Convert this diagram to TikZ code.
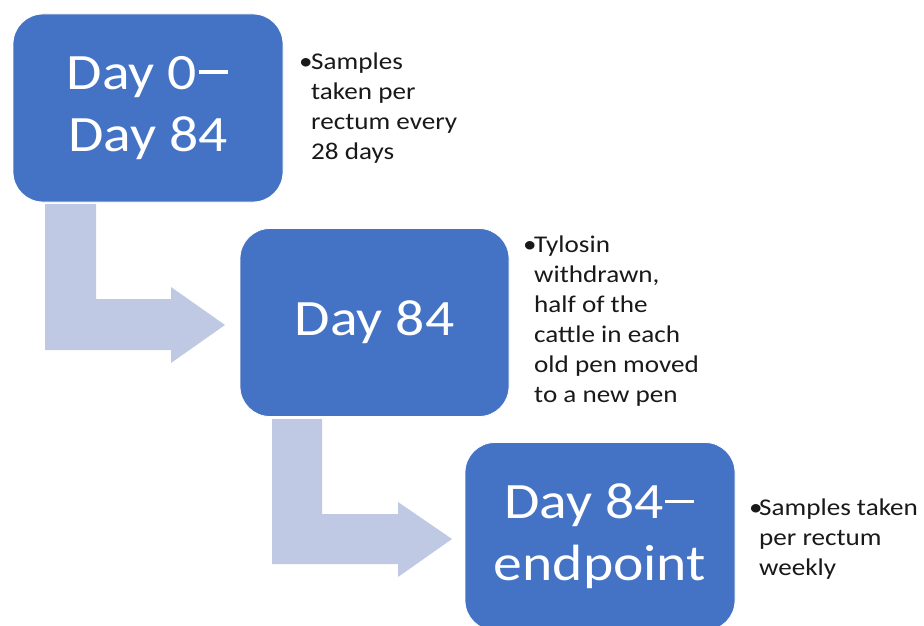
\documentclass[tikz,border=0pt]{standalone}
\usepackage{fontspec}
\setmainfont{Carlito}[FakeStretch=1.13]
\definecolor{boxblue}{RGB}{68,114,196}
\definecolor{arrowblue}{RGB}{191,201,228}
\newcommand\stagedash{\kern1.5pt\rule[15.5pt]{29pt}{3.6pt}\kern1.5pt}
\begin{document}
\begin{tikzpicture}[x=1pt,y=-1pt,
  stagebox/.style={fill=boxblue, draw=white, line width=0.8pt, rounded corners=30pt,
    minimum width=270pt, minimum height=188pt, text=white, align=center, inner sep=0pt,
    font=\fontsize{51}{62}\selectfont},
  note/.style={anchor=base west, inner sep=0pt, font=\fontsize{24}{30}\selectfont, text=black!90},
  bentarrow/.style={fill=arrowblue, draw=none}]
\useasboundingbox (0,0) rectangle (924,626);
% bent arrows
\fill[bentarrow] (45,204) -- (96,204) -- (96,299) -- (171,299) -- (171,287) -- (225,325)
  -- (171,363) -- (171,350) -- (45,350) -- cycle;
\fill[bentarrow] (272,419) -- (322,419) -- (322,514) -- (398,514) -- (398,502) -- (452,539)
  -- (398,577) -- (398,564) -- (272,564) -- cycle;
% boxes
\node[stagebox] (b1) at (148,108) {Day 0\stagedash\\Day 84};
\node[stagebox, minimum width=269pt] (b2) at (374.5,322.5) {Day 84};
\node[stagebox] (b3) at (600,536.5) {Day 84\stagedash\\endpoint};
% notes
\node[note] (n1) at (299,70) {\begin{tabular}[t]{@{}l@{}l@{}}\makebox[12pt][l]{•}&Samples\\ &taken per\\ &rectum every\\ &28 days\end{tabular}};
\node[note] (n2) at (523,252) {\begin{tabular}[t]{@{}l@{}l@{}}\makebox[11pt][l]{•}&Tylosin\\ &withdrawn,\\ &half of the\\ &cattle in each\\ &old pen moved\\ &to a new pen\end{tabular}};
\node[note] (n3) at (749,515) {\begin{tabular}[t]{@{}l@{}l@{}}\makebox[10pt][l]{•}&Samples taken\\ &per rectum\\ &weekly\end{tabular}};
\end{tikzpicture}
\end{document}
